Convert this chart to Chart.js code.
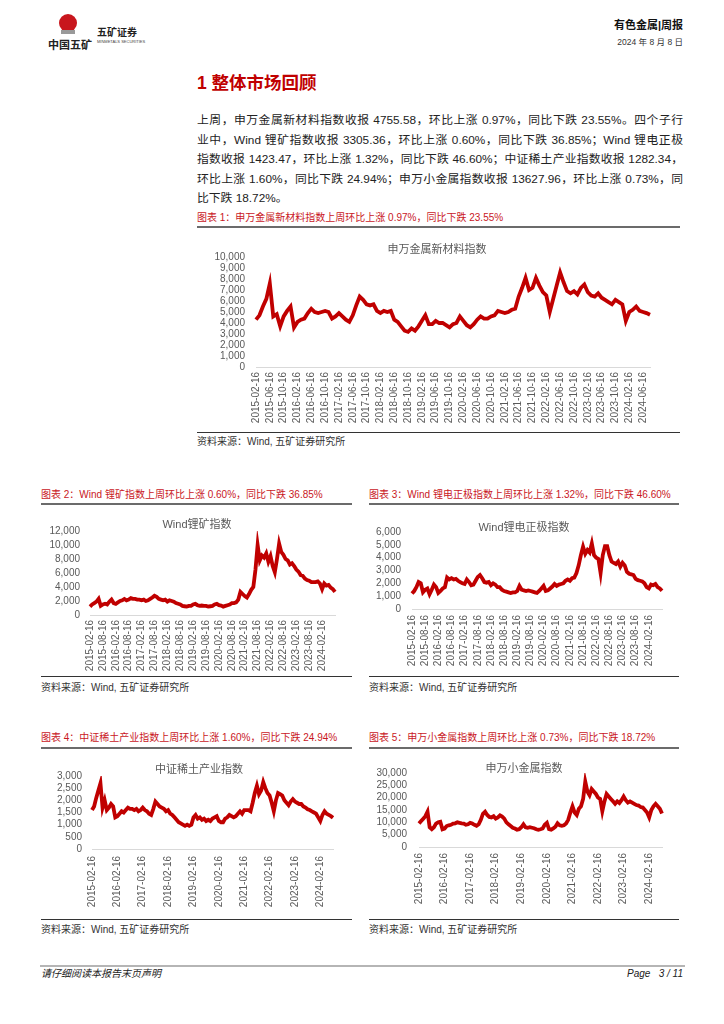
<!DOCTYPE html>
<html>
<head>
<meta charset="utf-8">
<script src="https://cdn.jsdelivr.net/npm/chart.js@4/dist/chart.umd.min.js"></script>
<style>
  body { margin: 0; width: 724px; height: 1024px; position: relative; background: #fff;
         font-family: "Liberation Sans", "Noto Sans CJK SC", sans-serif; color: #222; overflow: hidden; }
  .t { position: absolute; white-space: nowrap; }
  .cap { position: absolute; white-space: nowrap; font-size: 10px; line-height: 12px; color: #c9171e; }
  .src { position: absolute; white-space: nowrap; font-size: 10px; line-height: 12px; color: #333; }
  .ttl { position: absolute; white-space: nowrap; font-size: 11px; line-height: 14px; color: #595959; transform: translateX(-50%); }
  .hr { position: absolute; height: 2px; background: #6b6b6b; }
  .hb { position: absolute; height: 1px; background: #333; }
  .p { position: absolute; left: 197px; width: 486px; font-size: 11.8px; line-height: 18px; color: #222;
       text-align: justify; text-align-last: justify; }
  canvas { position: absolute; }
</style>
</head>
<body>

<!-- header -->
<div style="position:absolute;left:59px;top:14px;width:18px;height:18px;border-radius:50%;background:#c8161d"></div>
<div style="position:absolute;left:61px;top:30px;width:14px;height:4px;background:#9a9a9a"></div>
<div class="t" style="left:48px;top:39px;font-size:11px;line-height:13px;font-weight:bold;color:#222">中国五矿</div>
<div class="t" style="left:97px;top:27px;font-size:10px;line-height:12px;font-weight:bold;color:#222">五矿证券</div>
<div class="t" style="left:97px;top:39px;font-size:4px;line-height:5px;color:#444">MINMETALS SECURITIES</div>
<div class="t" style="right:41px;top:18px;font-size:11px;line-height:14px;font-weight:bold;color:#111">有色金属|周报</div>
<div class="t" style="right:41px;top:37px;font-size:8.5px;line-height:10px;color:#333">2024 年 8 月 8 日</div>

<div class="t" style="left:197px;top:72px;font-size:17.5px;line-height:22px;font-weight:bold;color:#c00000">1 整体市场回顾</div>

<div class="p" style="top:111px">上周，申万金属新材料指数收报 4755.58，环比上涨 0.97%，同比下跌 23.55%。四个子行</div>
<div class="p" style="top:130.5px">业中，Wind 锂矿指数收报 3305.36，环比上涨 0.60%，同比下跌 36.85%；Wind 锂电正极</div>
<div class="p" style="top:150px">指数收报 1423.47，环比上涨 1.32%，同比下跌 46.60%；中证稀土产业指数收报 1282.34，</div>
<div class="p" style="top:169.5px">环比上涨 1.60%，同比下跌 24.94%；申万小金属指数收报 13627.96，环比上涨 0.73%，同</div>
<div class="p" style="top:189px;text-align-last:left">比下跌 18.72%。</div>

<!-- figure 1 -->
<div class="cap" style="left:197px;top:212px">图表 1：申万金属新材料指数上周环比上涨 0.97%，同比下跌 23.55%</div>
<div class="hr" style="left:197px;top:225.5px;width:483px"></div>
<canvas id="c1" width="470" height="190" style="left:197px;top:240px"></canvas>
<div class="ttl" style="left:437px;top:242px">申万金属新材料指数</div>
<div class="hb" style="left:197px;top:432px;width:483px"></div>
<div class="src" style="left:197px;top:436px">资料来源：Wind, 五矿证券研究所</div>

<!-- figure 2 -->
<div class="cap" style="left:41px;top:489px">图表 2：Wind 锂矿指数上周环比上涨 0.60%，同比下跌 36.85%</div>
<div class="hr" style="left:41px;top:503px;width:311px"></div>
<canvas id="c2" width="311" height="161" style="left:41px;top:515px"></canvas>
<div class="ttl" style="left:197px;top:517px">Wind锂矿指数</div>
<div class="hb" style="left:41px;top:676px;width:311px"></div>
<div class="src" style="left:41px;top:682px">资料来源：Wind, 五矿证券研究所</div>

<!-- figure 3 -->
<div class="cap" style="left:369px;top:489px">图表 3：Wind 锂电正极指数上周环比上涨 1.32%，同比下跌 46.60%</div>
<div class="hr" style="left:369px;top:503px;width:310px"></div>
<canvas id="c3" width="311" height="161" style="left:369px;top:515px"></canvas>
<div class="ttl" style="left:524px;top:520px">Wind锂电正极指数</div>
<div class="hb" style="left:369px;top:676px;width:310px"></div>
<div class="src" style="left:369px;top:682px">资料来源：Wind, 五矿证券研究所</div>

<!-- figure 4 -->
<div class="cap" style="left:41px;top:732px">图表 4：中证稀土产业指数上周环比上涨 1.60%，同比下跌 24.94%</div>
<div class="hr" style="left:41px;top:747px;width:311px"></div>
<canvas id="c4" width="311" height="159" style="left:41px;top:760px"></canvas>
<div class="ttl" style="left:199px;top:762px">中证稀土产业指数</div>
<div class="hb" style="left:41px;top:919px;width:311px"></div>
<div class="src" style="left:41px;top:924px">资料来源：Wind, 五矿证券研究所</div>

<!-- figure 5 -->
<div class="cap" style="left:369px;top:732px">图表 5：申万小金属指数上周环比上涨 0.73%，同比下跌 18.72%</div>
<div class="hr" style="left:369px;top:747px;width:310px"></div>
<canvas id="c5" width="311" height="164" style="left:369px;top:755px"></canvas>
<div class="ttl" style="left:524px;top:761px">申万小金属指数</div>
<div class="hb" style="left:369px;top:919px;width:310px"></div>
<div class="src" style="left:369px;top:924px">资料来源：Wind, 五矿证券研究所</div>

<!-- footer -->
<div style="position:absolute;left:40px;top:965px;width:645px;height:2px;background:#b5b5b5"></div>
<div class="t" style="left:41px;top:968px;font-size:10px;line-height:12px;font-style:italic;color:#222">请仔细阅读本报告末页声明</div>
<div class="t" style="right:41px;top:968px;font-size:10px;line-height:12px;font-style:italic;color:#222">Page&nbsp;&nbsp;&nbsp;3 / 11</div>

<script>
const FONT = '"Liberation Sans", "Noto Sans CJK SC", sans-serif'

// monthly dates, 2015-02 .. 2024-08
let months = []
for (let y = 2015; y <= 2024; y++) {
  for (let m = 1; m <= 12; m++) {
    if (y == 2015 && m < 2) continue
    if (y == 2024 && m > 8) continue
    months.push(y + '-' + String(m).padStart(2, '0') + '-16')
  }
}

// 申万金属新材料指数
let swNewMaterial = [
  4300, 4700, 5500, 6200, 7600, 4600, 4800, 3700, 4600, 5100, 5500,
  3600, 4100, 4300, 4400, 4900, 5300, 5000, 4900, 5000, 5100, 5000, 4400,
  4600, 4900, 4600, 4300, 4100, 4700, 5600, 6400, 6100, 5700, 5600, 5700,
  5100, 4900, 5100, 5000, 5100, 4300, 4100, 3700, 3300, 3200, 3500, 3300,
  3700, 4200, 4700, 3900, 3900, 4200, 4000, 4000, 3800, 3600, 3900, 4000,
  4600, 4200, 3800, 3600, 3900, 4300, 4600, 4400, 4400, 4600, 4700, 5100,
  5000, 4900, 5000, 5200, 5300, 6400, 7200, 8100, 7000, 7200, 8100, 7400,
  6800, 6500, 5000, 6200, 7400, 8600, 7700, 6900, 6700, 6900, 6600, 7200,
  7500, 6800, 6500, 6400, 6700, 6300, 6100, 5900, 5700, 6100, 5900, 5700,
  4200, 5000, 5200, 5500, 5100, 5000, 4900, 4750
]

// Wind锂矿指数
let windLithiumMine = [
  1200, 1500, 1700, 1900, 2300, 1300, 1500, 1600, 1500, 1900, 2200,
  1700, 1600, 1800, 2000, 2100, 2300, 2100, 2200, 2400, 2300, 2300, 2200,
  2200, 2100, 2200, 2000, 2100, 2300, 2500, 2750, 2600, 2300, 2200, 2100,
  2200, 1900, 2100, 2000, 1900, 1700, 1600, 1500, 1300, 1250, 1200, 1300,
  1300, 1500, 1600, 1400, 1300, 1350, 1300, 1300, 1200, 1250, 1300, 1500,
  1600, 1400, 1350, 1200, 1300, 1400, 1500, 1700, 1700, 1800, 2200, 3300,
  3000, 2700, 2500, 3000, 3600, 4000, 6500, 10000, 7800, 8500, 8200, 8800,
  7600, 8400, 7000, 6100, 8000, 10200, 9000, 8600, 8000, 7800, 7200, 7400,
  7000, 6500, 6200, 5700, 5600, 5200, 5000, 4900, 4700, 4700, 4700, 4800,
  4500, 3700, 4500, 4200, 4300, 3900, 3700, 3300
]

// Wind锂电正极指数
let windCathode = [
  1200, 1400, 1700, 2100, 2000, 1300, 1500, 1600, 1150, 1500, 1900,
  1700, 1250, 1400, 1600, 1700, 2450, 2300, 2400, 2300, 2350, 2200, 2100,
  2000, 1950, 2300, 2100, 1850, 1900, 2200, 2500, 2650, 2400, 2100, 2050,
  2100, 1850, 2000, 1900, 1700, 1700, 1500, 1400, 1350, 1300, 1250, 1300,
  1300, 1400, 1800, 1500, 1450, 1400, 1450, 1400, 1350, 1300, 1250, 1400,
  1600, 1800, 1400, 1450, 1600, 1750, 1950, 1800, 1900, 1950, 2000, 2200,
  2300, 2200, 2400, 2450, 2800, 3400, 4200, 4850, 4300, 4600, 4400, 5100,
  4200, 4000, 3900, 2800, 4200, 4900, 4900, 4200, 3700, 3600, 3500, 3700,
  3300, 3600, 3400, 2900, 2750, 2700, 2650, 2350, 2250, 2200, 2150, 2000,
  1700, 1600, 1900, 1850, 1950, 1700, 1600, 1420
]

// 中证稀土产业指数
let csiRareEarth = [
  1600, 1750, 2100, 2400, 2700, 1700, 2000, 1600, 1700, 1850, 1750,
  1300, 1350, 1450, 1550, 1500, 1600, 1700, 1650, 1650, 1600, 1650, 1550,
  1600, 1700, 1600, 1550, 1450, 1400, 1650, 1950, 1850, 1750, 1700, 1650,
  1550, 1600, 1450, 1400, 1300, 1200, 1100, 1050, 1000, 950, 1000, 950,
  1000, 1300, 1400, 1250, 1300, 1200, 1250, 1150, 1200, 1150, 1250, 1300,
  1350, 1150, 1100, 1100, 1250, 1300, 1400, 1350, 1300, 1350, 1450, 1550,
  1450, 1600, 1600, 1600, 1550, 1900, 2300, 2600, 2250, 2400, 2750, 2500,
  2300, 2200, 1900, 1550, 2000, 2300, 2250, 2200, 2000, 1900, 1800, 1950,
  2050, 1950, 1900, 1850, 1850, 1750, 1700, 1630, 1600, 1550, 1500, 1450,
  1300, 1150, 1400, 1550, 1450, 1400, 1350, 1280
]

// 申万小金属指数
let swMinorMetal = [
  9500, 10500, 11500, 12500, 14300, 8000, 7200, 8000, 9500, 10000, 10200,
  7200, 7500, 8500, 8800, 9000, 9500, 9600, 10000, 9800, 9600, 9500, 9000,
  9200, 9800, 9500, 9000, 8600, 9200, 11000, 13500, 14300, 13000, 12200, 12000,
  12500, 11500, 12000, 12800, 12300, 11500, 10000, 9200, 8500, 7800, 7500, 7000,
  7200, 8000, 9200, 8000, 7800, 8000, 7800, 7600, 7200, 7000, 7200, 7500,
  9000, 9800, 7200, 7000, 7500, 8200, 9600, 8800, 8600, 8800, 9500, 11000,
  14000, 16500, 14000, 13000, 15500, 16500, 19500, 26500, 22500, 21000, 23500, 22500,
  21500, 20000, 19500, 14500, 18500, 21500, 20500, 19500, 18500, 17500, 18500, 17800,
  19000, 20500, 19000, 18000, 18500, 18000, 17500, 17000, 16800, 16200, 16000, 15000,
  14000, 12000, 15000, 16500, 17500, 16500, 15500, 13600
]

function makeChart(id, values, o) {
  new Chart(document.getElementById(id), {
    type: 'line',
    data: {
      labels: months,
      datasets: [{
        data: values,
        borderColor: '#c00000',
        borderWidth: 3.8,
        pointRadius: 0,
        tension: 0,
        fill: false
      }]
    },
    options: {
      responsive: false,
      animation: false,
      layout: { padding: { top: o.padTop, right: o.padRight, bottom: 0, left: 0 } },
      plugins: { legend: { display: false }, tooltip: { enabled: false } },
      scales: {
        x: {
          grid: { display: false, drawTicks: false },
          border: { display: true, color: '#d9d9d9', width: 1 },
          ticks: {
            autoSkip: false, minRotation: 90, maxRotation: 90, padding: o.xPad,
            color: '#595959', font: { size: 10, family: FONT },
            // only every n-th month gets a label, up to the last labelled date
            callback: (v, i) => (i % o.every == 0 && i <= o.lastTick) ? months[i] : ''
          },
          afterFit: (axis) => { axis.height = o.xHeight }
        },
        y: {
          min: 0, max: o.yMax,
          grid: { display: false, drawTicks: false },
          border: { display: false },
          ticks: {
            autoSkip: false, stepSize: o.yStep, padding: o.tickPad,
            color: '#595959', font: { size: 10, family: FONT },
            callback: (v) => v.toLocaleString('en-US')
          },
          afterFit: (axis) => { axis.width = o.yWidth }
        }
      }
    }
  })
}

makeChart('c1', swNewMaterial, { yMax: 10000, yStep: 1000, every: 4, lastTick: 112, yWidth: 59, tickPad: 11, padTop: 16, padRight: 10, xHeight: 63, xPad: 5 })
makeChart('c2', windLithiumMine, { yMax: 12000, yStep: 2000, every: 6, lastTick: 108, yWidth: 49, tickPad: 10, padTop: 12, padRight: 8, xHeight: 61, xPad: 5 })
makeChart('c3', windCathode, { yMax: 6000, yStep: 1000, every: 6, lastTick: 108, yWidth: 43, tickPad: 11, padTop: 13, padRight: 8, xHeight: 67, xPad: 6 })
makeChart('c4', csiRareEarth, { yMax: 3000, yStep: 500, every: 12, lastTick: 108, yWidth: 51, tickPad: 10, padTop: 11, padRight: 9, xHeight: 70, xPad: 7 })
makeChart('c5', swMinorMetal, { yMax: 30000, yStep: 5000, every: 12, lastTick: 108, yWidth: 50, tickPad: 12, padTop: 11, padRight: 8, xHeight: 72, xPad: 6 })
</script>
</body>
</html>
